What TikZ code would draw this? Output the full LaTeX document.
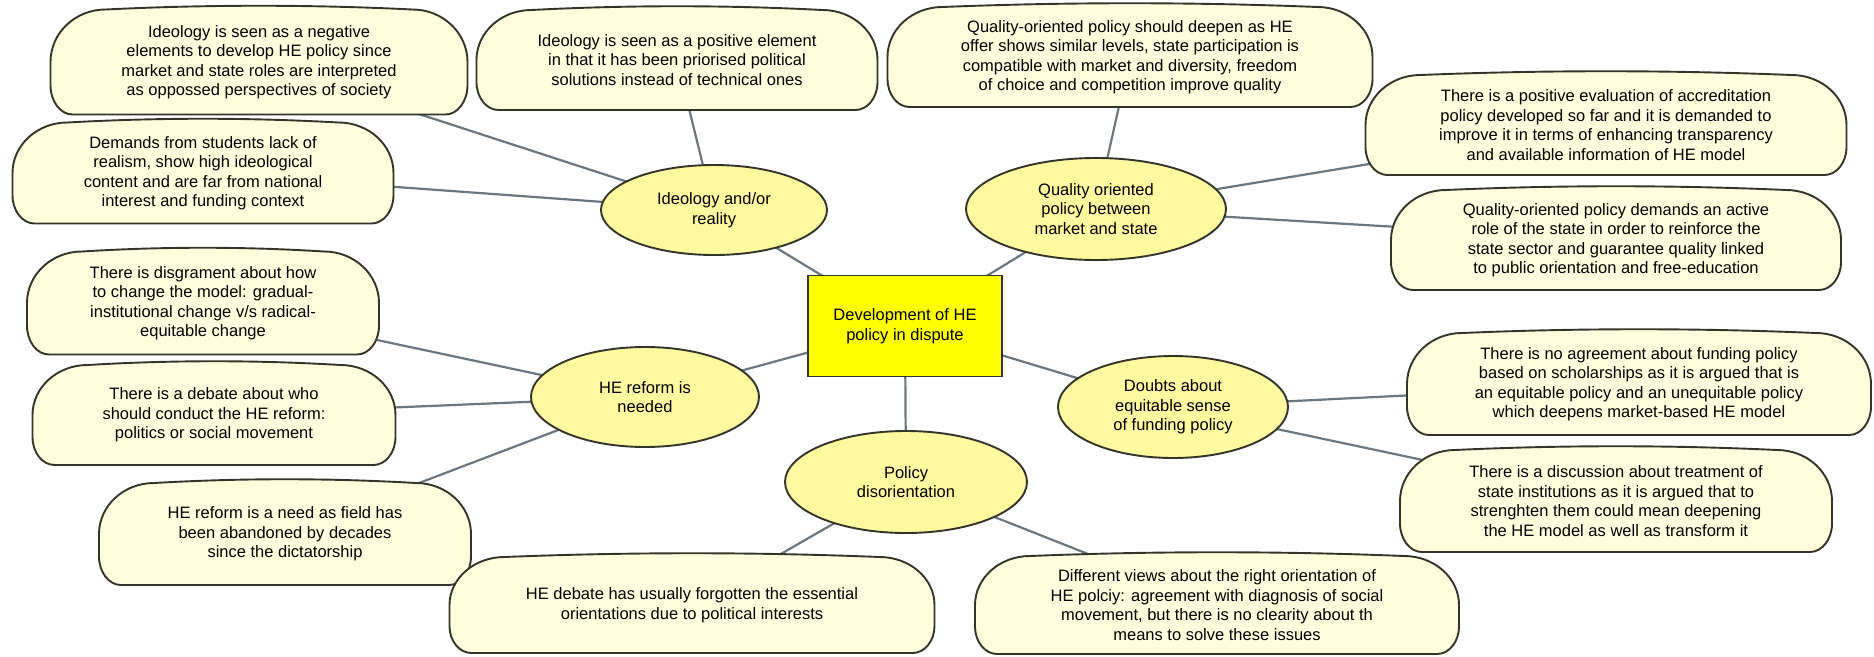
\documentclass[tikz,border=0pt]{standalone}
\usepackage{fontspec}
\setmainfont{Liberation Sans}
\usetikzlibrary{shapes.geometric,backgrounds}
\definecolor{boxfill}{HTML}{FFFFDD}
\definecolor{ellfill}{HTML}{FFF9A0}
\definecolor{centfill}{HTML}{FFFF00}
\definecolor{bord}{HTML}{34342A}
\definecolor{linkcol}{HTML}{6B7780}
% \leafbox{name}{x}{y}{w}{h}{text}
\newcommand\leafbox[6]{%
  \pgfmathsetmacro\lL{#2-#4/2}\pgfmathsetmacro\lR{#2+#4/2}%
  \pgfmathsetmacro\lT{#3-#5/2}\pgfmathsetmacro\lB{#3+#5/2}%
  \pgfmathsetmacro\ry{0.5*#5}\pgfmathsetmacro\rx{55}%
  \pgfmathsetmacro\by{0.28*#5}\pgfmathsetmacro\bx{22}%
  \pgfmathsetmacro\tw{(#4-2*\rx)/3}%
  \draw[leafline]
    (\lL,\lT+\ry) .. controls (\lL,\lT+0.448*\ry) and (\lL+0.448*\rx,\lT) .. (\lL+\rx,\lT)
    .. controls (\lL+\rx+\tw,\lT-5) and (\lR-\rx-\tw,\lT-5) .. (\lR-\rx,\lT)
    .. controls (\lR-0.448*\rx,\lT) and (\lR,\lT+0.448*\ry) .. (\lR,\lT+\ry)
    -- (\lR,\lB-\by)
    .. controls (\lR,\lB-0.448*\by) and (\lR-0.448*\bx,\lB) .. (\lR-\bx,\lB)
    -- (\lL+\bx,\lB)
    .. controls (\lL+0.448*\bx,\lB) and (\lL,\lB-0.448*\by) .. (\lL,\lB-\by)
    -- cycle;
  \node[minimum width=#4pt, minimum height=#5pt] (#1) at (#2,#3) {#6};%
}
\begin{document}
\begin{tikzpicture}[x=1pt,y=-1pt,
  every node/.style={font=\fontsize{16.5}{19.5}\selectfont, align=center, inner sep=0pt},
  leafline/.style={draw=bord, line width=1.9pt, fill=boxfill},
  topic/.style={ellipse, draw=bord, line width=1.9pt, fill=ellfill},
  hub/.style={rectangle, draw=bord, line width=1.9pt, fill=centfill},
  link/.style={draw=linkcol, line width=2.2pt}]
\useasboundingbox (0,0) rectangle (1874,656);

% hub
\node[hub, minimum width=194pt, minimum height=101pt] (hub) at (905,326) {Development of HE\\policy in dispute};

% topics
\node[topic, minimum width=226pt, minimum height=90pt] (ideo) at (714,210) {Ideology and/or\\reality};
\node[topic, minimum width=260pt, minimum height=102pt] (qual) at (1096,209) {Quality oriented\\policy between\\market and state};
\node[topic, minimum width=228pt, minimum height=100pt] (refo) at (645,397) {HE reform is\\needed};
\node[topic, minimum width=242pt, minimum height=102pt] (pol) at (906,482) {Policy\\disorientation};
\node[topic, minimum width=230pt, minimum height=102pt] (doub) at (1173,407) {Doubts about\\equitable sense\\of funding policy};

% leaves
\leafbox{a}{259}{62}{417}{105}{Ideology is seen as a negative\\elements to develop HE policy since\\market and state roles are interpreted\\as oppossed perspectives of society}
\leafbox{b}{677}{60}{401}{100}{Ideology is seen as a positive element\\in that it has been priorised political\\solutions instead of technical ones}
\leafbox{c}{203}{173}{381}{101}{Demands from students lack of\\realism, show high ideological\\content and are far from national\\interest and funding context}
\leafbox{d}{203}{303}{352}{103}{There is disgrament about how\\to change the model: gradual-\\institutional change v/s radical-\\equitable change}
\leafbox{h}{214}{415}{363}{100}{There is a debate about who\\should conduct the HE reform:\\politics or social movement}
\leafbox{i}{285}{534}{372}{102}{HE reform is a need as field has\\been abandoned by decades\\since the dictatorship}
\leafbox{j}{692}{605}{485}{96}{HE debate has usually forgotten the essential\\orientations due to political interests}
\leafbox{e}{1130}{57}{485}{100}{Quality-oriented policy should deepen as HE\\offer shows similar levels, state participation is\\compatible with market and diversity, freedom\\of choice and competition improve quality}
\leafbox{f}{1606}{125}{481}{100}{There is a positive evaluation of accreditation\\policy developed so far and it is demanded to\\improve it in terms of enhancing transparency\\and available information of HE model}
\leafbox{g}{1616}{240}{450}{100}{Quality-oriented policy demands an active\\role of the state in order to reinforce the\\state sector and guarantee quality linked\\to public orientation and free-education}
\leafbox{k}{1639}{384}{464}{102}{There is no agreement about funding policy\\based on scholarships as it is argued that is\\an equitable policy and an unequitable policy\\which deepens market-based HE model}
\leafbox{l}{1616}{501}{432}{102}{There is a discussion about treatment of\\state institutions as it is argued that to\\strenghten them could mean deepening\\the HE model as well as transform it}
\leafbox{m}{1217}{605}{484}{98}{Different views about the right orientation of\\HE polciy: agreement with diagnosis of social\\movement, but there is no clearity about th\\means to solve these issues}

\begin{scope}[on background layer]
\draw[link] (hub.center) -- (ideo.center);
\draw[link] (hub.center) -- (qual.center);
\draw[link] (hub.center) -- (refo.center);
\draw[link] (hub.center) -- (pol.center);
\draw[link] (hub.center) -- (doub.center);
\draw[link] (ideo.center) -- (a.center);
\draw[link] (ideo.center) -- (b.center);
\draw[link] (ideo.center) -- (c.center);
\draw[link] (qual.center) -- (e.center);
\draw[link] (qual.center) -- (f.center);
\draw[link] (qual.center) -- (g.center);
\draw[link] (refo.center) -- (d.center);
\draw[link] (refo.center) -- (h.center);
\draw[link] (refo.center) -- (i.center);
\draw[link] (pol.center) -- (j.center);
\draw[link] (pol.center) -- (m.center);
\draw[link] (doub.center) -- (k.center);
\draw[link] (doub.center) -- (l.center);
\end{scope}
\end{tikzpicture}
\end{document}
